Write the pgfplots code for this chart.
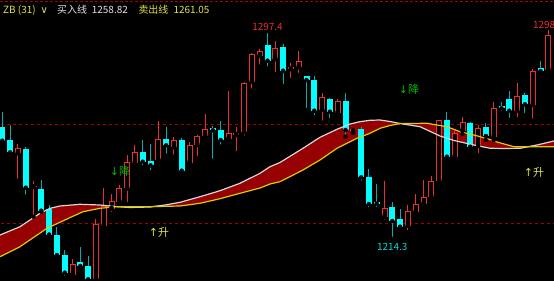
\documentclass[border=0pt]{standalone}
\usepackage{pgfplots}
\pgfplotsset{compat=1.18}
\usepackage{pgfplotstable}
\usepgfplotslibrary{fillbetween}
\usepackage{fontspec}
\setmainfont{Noto Sans CJK SC}
\newfontfamily\sym{DejaVu Sans}
\definecolor{cred}{RGB}{232,48,48}
\definecolor{ccyan}{RGB}{0,255,255}
\definecolor{cwick}{RGB}{0,175,175}
\definecolor{cdash}{RGB}{165,0,0}
\definecolor{cyel}{RGB}{225,200,0}
\definecolor{cwhite}{RGB}{215,215,215}
\definecolor{cband}{RGB}{150,0,0}
\definecolor{ctxtyel}{RGB}{225,225,70}
\definecolor{ctxtwht}{RGB}{225,225,225}
\definecolor{cgreen}{RGB}{0,185,0}

% up (red, hollow) candles
\pgfplotstableread{
k o h l c
2 1248.87 1252.50 1237.81 1250.89
4 1235.27 1237.81 1223.29 1235.80
9 1199.90 1206.23 1198.16 1204.21
12 1198.28 1222.37 1197.76 1220.35
13 1219.54 1234.75 1218.21 1227.73
14 1226.52 1232.33 1224.38 1229.51
15 1229.34 1236.08 1228.94 1234.75
16 1234.67 1248.38 1228.42 1245.24
17 1245.08 1252.22 1244.15 1249.39
20 1246.17 1261.90 1245.76 1254.64
22 1251.29 1255.32 1247.50 1254.23
24 1245.08 1253.55 1244.15 1252.22
25 1252.22 1256.25 1246.85 1255.97
26 1255.85 1264.60 1255.57 1258.67
29 1254.52 1274.00 1253.14 1256.94
30 1256.25 1259.60 1248.87 1257.18
31 1257.34 1277.75 1255.16 1277.11
32 1277.75 1289.45 1274.12 1288.93
33 1288.24 1290.82 1283.80 1290.02
35 1286.79 1294.17 1280.86 1291.35
37 1282.75 1285.42 1278.44 1283.80
38 1283.56 1290.14 1280.45 1286.22
41 1266.34 1273.07 1261.21 1271.46
43 1265.25 1270.65 1264.72 1270.09
45 1257.86 1259.07 1257.06 1258.55
49 1223.29 1237.69 1221.28 1226.68
52 1219.66 1228.01 1217.00 1225.59
53 1225.31 1232.33 1223.98 1228.42
54 1228.42 1238.10 1227.33 1231.36
55 1231.12 1239.71 1230.31 1237.69
56 1237.81 1262.30 1236.48 1262.18
58 1247.50 1257.86 1246.17 1257.06
59 1257.99 1263.63 1256.65 1261.37
61 1251.81 1260.28 1248.18 1259.20
63 1255.57 1269.68 1254.23 1267.26
66 1266.05 1277.35 1262.58 1271.98
68 1268.35 1282.75 1262.02 1282.07
70 1282.47 1298.60 1281.79 1296.59
}\up

% down (cyan, filled) candles
\pgfplotstableread{
k o h l c
0 1259.60 1265.65 1252.22 1253.95
1 1254.23 1260.28 1248.79 1249.27
3 1250.60 1251.53 1231.36 1234.99
5 1234.47 1238.10 1225.31 1225.71
6 1226.60 1228.01 1215.51 1216.11
7 1215.91 1219.02 1206.23 1207.84
8 1207.84 1209.86 1198.69 1200.70
10 1204.90 1210.95 1201.79 1203.41
11 1203.41 1207.56 1197.56 1198.04
18 1249.39 1254.23 1243.22 1245.48
19 1245.76 1252.62 1241.20 1244.03
21 1254.52 1259.36 1247.90 1252.10
23 1254.11 1255.04 1241.33 1241.85
27 1259.07 1259.88 1245.88 1258.15
28 1258.27 1261.78 1251.53 1254.23
34 1292.56 1297.40 1283.16 1286.22
36 1291.87 1292.96 1276.02 1282.19
39 1280.17 1280.25 1266.34 1278.44
40 1278.44 1280.05 1263.39 1266.05
42 1270.77 1271.30 1262.30 1265.65
44 1270.09 1273.07 1255.57 1258.27
46 1258.55 1259.36 1237.01 1239.19
47 1239.43 1242.41 1226.28 1228.42
48 1229.34 1236.48 1226.40 1228.54
50 1227.21 1229.10 1214.30 1221.56
51 1222.49 1226.40 1217.65 1219.26
57 1262.18 1265.65 1246.45 1247.50
60 1260.97 1261.50 1251.01 1251.53
62 1259.36 1260.97 1254.23 1255.85
64 1267.95 1269.68 1265.01 1267.02
65 1270.89 1274.12 1262.30 1266.05
67 1272.27 1273.31 1264.32 1268.64
69 1283.16 1286.22 1280.45 1282.07
}\down

% white line
\pgfplotstableread{
k v
-0.29 1215.91
2.27 1219.26
4.83 1224.66
6.12 1226.68
7.40 1227.61
9.96 1228.30
12.53 1228.01
14.45 1227.41
16.37 1227.00
18.94 1227.21
20.86 1228.01
22.78 1229.10
25.35 1231.36
27.91 1233.78
30.47 1236.77
33.04 1240.80
34.32 1243.46
35.60 1245.16
38.55 1250.89
40.73 1255.32
42.91 1258.55
44.58 1260.69
45.86 1261.62
47.14 1262.18
48.42 1262.30
49.71 1261.70
50.99 1260.89
53.55 1259.60
56.12 1255.85
57.91 1254.03
60.47 1252.22
62.53 1250.89
64.45 1250.81
66.37 1250.89
68.55 1252.22
70.73 1253.83
}\mawhite

% yellow line
\pgfplotstableread{
k v
-0.29 1207.16
2.27 1211.19
5.73 1218.61
8.29 1222.37
10.35 1225.31
12.53 1226.68
14.71 1227.33
18.94 1227.33
22.78 1227.61
25.35 1228.70
27.91 1230.55
30.47 1232.73
33.04 1234.87
34.32 1236.48
35.60 1237.41
38.55 1242.13
40.73 1246.17
42.91 1250.89
45.47 1254.92
47.14 1256.94
48.42 1258.95
49.71 1260.08
50.99 1260.89
54.45 1260.97
57.01 1259.60
58.68 1257.58
60.47 1256.25
62.53 1254.44
63.42 1253.43
65.60 1251.53
68.55 1251.53
70.73 1251.53
}\mayel

\begin{document}
\begin{tikzpicture}
\fill[black] (0,0) rectangle (554bp,281bp);
\begin{axis}[at={(0,0)}, anchor=south west, scale only axis,
  width=554bp, height=281bp,
  xmin=-0.2949, xmax=70.7308, ymin=1197.355, ymax=1310.71,
  hide axis, clip=false,
  fill between/on layer=main,
  font=\fontsize{10}{12}\selectfont]

% dashed reference lines
\addplot[cdash, line width=1bp, dash pattern=on 3bp off 3bp] coordinates {(-1,1260.57) (72,1260.57)};
\addplot[cdash, line width=1bp, dash pattern=on 3bp off 3bp] coordinates {(-1,1220.35) (72,1220.35)};
\addplot[cdash, line width=1.2bp, dash pattern=on 3bp off 2bp] coordinates {(-1,1310.0) (72,1310.0)};

% band between lines
\addplot[name path=W, draw=none] table[x=k,y=v] {\mawhite};
\addplot[name path=Y, draw=none] table[x=k,y=v] {\mayel};
\addplot[fill=cband, draw=none] fill between[of=W and Y];

% wicks
\addplot[only marks, mark=none, error bars/.cd, y dir=plus, y explicit, error mark=none,
  error bar style={draw=cred, line width=1bp}]
  table[x=k, y=l, y error expr=\thisrow{h}-\thisrow{l}] {\up};
\addplot[only marks, mark=none, error bars/.cd, y dir=plus, y explicit, error mark=none,
  error bar style={draw=cwick, line width=1bp}]
  table[x=k, y=l, y error expr=\thisrow{h}-\thisrow{l}] {\down};

% red bodies (outline + black inside)
\addplot[only marks, mark=none, error bars/.cd, y dir=plus, y explicit, error mark=none,
  error bar style={draw=cred, line width=6bp}]
  table[x=k, y=o, y error expr=\thisrow{c}-\thisrow{o}] {\up};
\addplot[only marks, mark=none, error bars/.cd, y dir=plus, y explicit, error mark=none,
  error bar style={draw=black, line width=4bp}]
  table[x=k, y expr=\thisrow{o}+0.4, y error expr={max(\thisrow{c}-\thisrow{o}-0.8,0)}] {\up};

% cyan bodies
\addplot[only marks, mark=none, error bars/.cd, y dir=plus, y explicit, error mark=none,
  error bar style={draw=ccyan, line width=6bp}]
  table[x=k, y=c, y error expr=\thisrow{o}-\thisrow{c}] {\down};

% moving lines
\addplot[cwhite, line width=1.2bp] table[x=k,y=v] {\mawhite};
\addplot[cyel, line width=1.2bp] table[x=k,y=v] {\mayel};

% labels
\node[anchor=base, inner sep=0, text=cred] at (axis cs:34,1298.3) {1297.4};
\node[anchor=base, inner sep=0, text=cred] at (axis cs:70,1299.3) {1298.6};
\node[anchor=base, inner sep=0, text=ccyan!85!black] at (axis cs:50,1209.5) {1214.3};
\node[inner sep=0, text=cgreen, font=\fontsize{11}{12}\selectfont] at (axis cs:15.09,1241.73) {{\sym ↓}降};
\node[inner sep=0, text=cgreen, font=\fontsize{11}{12}\selectfont] at (axis cs:52.14,1274.81) {{\sym ↓}降};
\node[inner sep=0, text=ctxtyel, font=\fontsize{11}{12}\selectfont] at (axis cs:20.09,1216.92) {{\sym ↑}升};
\node[inner sep=0, text=ctxtyel, font=\fontsize{11}{12}\selectfont] at (axis cs:68.17,1241.12) {{\sym ↑}升};
\end{axis}
% header
\begin{scope}[every node/.style={anchor=base west, inner sep=0, font=\fontsize{10}{12}\selectfont}]
\node[text=ctxtyel] at (3bp,267bp) {ZB (31)};
\node[text=ctxtyel] at (40.5bp,267bp) {\sym ∨};
\node[text=ctxtwht] at (57bp,267bp) {买入线};
\node[text=ctxtwht] at (91.7bp,267bp) {1258.82};
\node[text=ctxtyel] at (138.3bp,267bp) {卖出线};
\node[text=ctxtyel] at (173.3bp,267bp) {1261.05};
\end{scope}
\pgfresetboundingbox
\path[use as bounding box] (0,0) rectangle (554bp,281bp);
\end{tikzpicture}
\end{document}
